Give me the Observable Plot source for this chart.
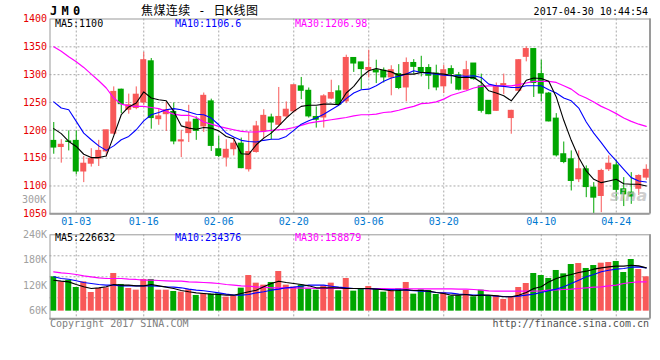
<!DOCTYPE html>
<html><head><meta charset="utf-8">
<script src="https://cdn.jsdelivr.net/npm/d3@7"></script>
<script src="https://cdn.jsdelivr.net/npm/@observablehq/plot@0.6"></script>
<style>
html,body{margin:0;padding:0;background:#fff;}
#wrap{position:relative;width:660px;height:360px;overflow:hidden;font-family:"DejaVu Sans Mono","Liberation Mono",monospace;}
.t{position:absolute;white-space:pre;font-size:10px;line-height:12px;}
#price,#vol{position:absolute;left:0;}
#price{top:0px}
#vol{top:230px}
</style></head><body>
<div id="wrap">
  <div id="price"></div>
  <div id="vol"></div>
  <div class="t" style="left:50px;top:4px;font-size:12px;line-height:14px;font-weight:bold;letter-spacing:4.3px">JM0</div>
  <div class="t" style="left:141px;top:4px;font-size:12px;line-height:14px;font-family:'DejaVu Sans Mono','Noto Sans CJK SC',monospace;letter-spacing:0.4px">焦煤连续 - 日K线图</div>
  <div class="t" style="right:12px;top:6px">2017-04-30 10:44:54</div>
  <div class="t" style="left:55px;top:18px;color:#000">MA5:1100</div>
  <div class="t" style="left:175px;top:18px;color:#0000ff">MA10:1106.6</div>
  <div class="t" style="left:295px;top:18px;color:#ff00ff">MA30:1206.98</div>
  <div class="t" style="right:614px;top:194px;color:#a0a0a0">300K</div>
  <div class="t" style="left:610px;top:186px;font-family:'DejaVu Sans',sans-serif;font-size:16px;line-height:20px;font-style:italic;font-weight:bold;color:rgba(190,190,190,0.75)">sina</div>
  <div class="t" style="left:55px;top:232px;color:#000">MA5:226632</div>
  <div class="t" style="left:175px;top:232px;color:#0000ff">MA10:234376</div>
  <div class="t" style="left:295px;top:232px;color:#ff00ff">MA30:158879</div>
  <div class="t" style="left:50px;top:318px;color:#808080">Copyright 2017 SINA.COM</div>
  <div class="t" style="right:11px;top:318px;color:#505050">http://finance.sina.com.cn</div>
</div>
<script>
const dates = ["12-28","12-29","12-30","01-03","01-04","01-05","01-06","01-09","01-10","01-11","01-12","01-13","01-16","01-17","01-18","01-19","01-20","01-23","01-24","01-25","01-26","02-03","02-06","02-07","02-08","02-09","02-10","02-13","02-14","02-15","02-16","02-17","02-20","02-21","02-22","02-23","02-24","02-27","02-28","03-01","03-02","03-03","03-06","03-07","03-08","03-09","03-10","03-13","03-14","03-15","03-16","03-17","03-20","03-21","03-22","03-23","03-24","03-27","03-28","03-29","03-30","03-31","04-05","04-06","04-07","04-10","04-11","04-12","04-13","04-14","04-17","04-18","04-19","04-20","04-21","04-24","04-25","04-26","04-27","04-28"];
const tickDates = ["01-03","01-16","02-06","02-20","03-06","03-20","04-10","04-24"];

const open  = [1181,1170,1180,1181,1126,1140,1149,1162,1194,1273, 1237,1240,1250,1324,1220,1229,1233,1180,1195,1219, 1207,1252,1166,1151,1166,1176,1130,1161,1198,1223, 1210,1225,1234,1279,1271,1224,1223,1257,1270,1252, 1330,1322,1308,1308,1307,1295,1301,1277,1321,1312, 1312,1302,1279,1310,1299,1273,1320,1279,1253,1235, 1281,1222,1271,1332,1346,1301,1266,1221,1157,1148, 1112,1130,1097,1082,1130,1137,1094,1088,1095,1115];
const high  = [1214,1183,1199,1199,1153,1167,1182,1200,1278,1274, 1265,1278,1340,1329,1237,1250,1249,1200,1245,1224, 1267,1256,1189,1183,1186,1186,1196,1216,1237,1229, 1277,1251,1282,1295,1276,1242,1264,1290,1280,1335, 1330,1322,1344,1326,1312,1316,1318,1330,1327,1333, 1318,1317,1317,1316,1304,1324,1320,1301,1253,1285, 1301,1236,1327,1350,1346,1326,1268,1230,1179,1163, 1163,1136,1106,1130,1154,1146,1115,1124,1120,1138];
const low   = [1157,1141,1163,1120,1106,1134,1135,1152,1192,1230, 1229,1237,1245,1202,1209,1198,1174,1151,1178,1182, 1196,1162,1151,1134,1154,1131,1125,1159,1185,1183, 1206,1222,1231,1255,1222,1204,1204,1255,1245,1248, 1304,1273,1294,1284,1285,1262,1273,1251,1301,1296, 1273,1271,1266,1283,1271,1272,1290,1231,1228,1234, 1264,1193,1268,1323,1259,1251,1215,1152,1140,1091, 1106,1079,1050,1052,1126,1073,1063,1067,1083,1110];
const close = [1169,1174,1179,1126,1140,1149,1163,1200,1269,1247, 1245,1264,1326,1222,1225,1236,1180,1182,1214,1199, 1262,1172,1154,1165,1176,1132,1161,1207,1226,1214, 1224,1237,1281,1271,1225,1219,1261,1267,1246,1330, 1320,1310,1312,1304,1295,1308,1276,1321,1314,1304, 1298,1277,1308,1301,1273,1308,1292,1235,1229,1279, 1283,1235,1326,1346,1285,1266,1216,1155,1143,1109, 1130,1098,1079,1127,1140,1093,1085,1081,1118,1129];

const ma5  = [1203,1194,1180,1171,1157,1151,1151,1154,1190,1228, 1242,1249,1269,1258,1255,1253,1234,1208,1204,1202, 1205,1204,1199,1189,1185,1158,1157,1174,1186,1195, 1208,1222,1234,1243,1245,1245,1247,1247,1246,1267, 1279,1296,1307,1311,1308,1305,1299,1301,1301,1304, 1304,1302,1301,1299,1295,1295,1295,1286,1271,1267, 1262,1253,1270,1290,1294,1293,1288,1260,1218,1182, 1151,1127,1112,1106,1109,1112,1104,1103,1103,1100];
const ma10 = [1251,1240,1237,1216,1195,1183,1172,1164,1172,1183, 1189,1201,1217,1228,1232,1237,1239,1237,1233,1229, 1228,1222,1210,1195,1188,1182,1180,1179,1182,1184, 1184,1189,1200,1211,1217,1222,1229,1237,1245,1257, 1267,1273,1274,1280,1288,1294,1297,1301,1307,1304, 1302,1301,1299,1298,1298,1297,1298,1295,1283,1280, 1279,1277,1277,1280,1280,1280,1273,1267,1258,1253, 1240,1215,1195,1178,1160,1145,1130,1115,1109,1107];
const ma30 = [1350,1342,1332,1323,1313,1301,1289,1276,1258,1247, 1244,1243,1243,1241,1239,1234,1229,1227,1227,1223, 1215,1211,1207,1204,1201,1198,1197,1197,1198,1200, 1201,1202,1205,1209,1213,1215,1217,1219,1221,1223, 1226,1228,1228,1229,1232,1233,1236,1240,1243,1248, 1249,1251,1256,1263,1267,1271,1276,1279,1280,1280, 1280,1280,1282,1285,1288,1288,1288,1286,1280,1274, 1264,1258,1251,1243,1237,1230,1222,1216,1211,1207];

const volume = [141000,129000,133000,115800,129000,104000,113400,115000,148800,122900, 113400,109500,134700,134700,109500,109500,106400,104800,110300,97000, 100900,100100,100900,93000,95400,114200,144000,126000,121300,127600, 153500,121300,116600,121300,111900,109500,119700,126000,108000,137000, 107200,111100,118200,111100,104800,111100,112700,127600,100100,110300, 108700,99300,103200,95400,96200,108700,93800,109500,95400,97000, 87500,93000,115800,125200,148800,144000,137000,155900,148000,170000, 172300,160600,167600,173100,174700,177100,151100,181800,158200,141000];
const volMa5 = [133000,130700,129000,122900,117400,113400,115000,117400,122900,121300, 121300,119700,119700,122900,119700,116600,113400,108700,105600,103200, 101700,100100,99300,97700,97700,101700,105600,109500,117400,125200, 130700,127600,125200,122900,119700,115000,115000,115000,115000,113400, 113400,113400,113400,111900,110300,108000,108700,110300,108700,108700, 107200,104000,101700,97700,97700,99300,96200,97700,97700,96200, 93800,93800,97700,104000,113400,117400,129000,137000,142500,146400, 151100,154300,159000,162100,164500,166100,166100,168400,166800,162100];
const volMa10 = [141000,137000,135400,131500,127600,125200,122900,121300,121300,119700, 119700,119700,119700,119700,118900,117400,116600,115000,111900,109500, 108000,105600,103200,100100,97700,97700,99300,103200,105600,109500, 111900,115000,116600,118900,121300,121300,121300,118900,116600,115000, 113400,112700,112700,111900,111100,111100,110300,109500,108000,107200, 106400,104000,103200,102500,100100,99300,97700,97700,97000,95400, 94600,93800,95400,97700,100100,104000,108000,111900,117400,125200, 133100,141000,146400,152700,156600,159000,160600,163700,164500,162100];
const volMa30 = [152700,150400,148800,146400,143300,141000,138600,137000,137000,137000, 135400,134700,133100,133100,132300,131500,130700,130700,129200,128400, 127600,126800,125200,122900,121300,119700,118900,117400,116600,115000, 115000,115000,115000,114200,114200,113400,113400,113400,113400,113400, 113400,113400,113400,113400,113400,112700,112700,112700,112700,112700, 112700,112700,112700,112700,111900,111900,111100,109500,108000,107200, 107200,107200,107200,107200,107200,108000,109500,110300,111100,111900, 113400,115000,116600,117400,119700,121300,125200,127600,129200,129200];

const priceTicks = [1050,1100,1150,1200,1250,1300,1350,1400];
const volTicks = [60000,120000,180000,240000];
const volBase = 60000;
const volDomain = [42000,240000];

const RED = "#f85858", GREEN = "#00a600";
const N = close.length;
const idx = d3.range(N);
const bars = idx.map(i => ({i, open: open[i], high: high[i], low: low[i], close: close[i], vol: volume[i],
  col: close[i] >= open[i] ? RED : GREEN}));
const tickIdx = tickDates.map(d => dates.indexOf(d));
const line = (arr) => idx.map(i => ({i, v: arr[i]}));
const grid = {stroke: "#a8a8a8", strokeOpacity: 1, strokeDasharray: "2,2", strokeWidth: 1};
const font = {fontFamily: "'DejaVu Sans Mono','Liberation Mono',monospace", fontSize: "10px", background: "transparent", overflow: "visible"};

const price = Plot.plot({
  width: 660, height: 230,
  marginTop: 18.5, marginBottom: 16.7, marginLeft: 49.5, marginRight: 10.5,
  style: font,
  x: {type: "linear", domain: [-0.5, N - 0.5], axis: null, label: null},
  y: {domain: [1050, 1400], axis: null, label: null},
  color: {type: "identity"},
  marks: [
    Plot.gridY(priceTicks.slice(1, -1), grid),
    Plot.gridX(tickIdx, grid),
    Plot.ruleX(bars, {x: "i", y1: "low", y2: "high", stroke: "col", strokeWidth: 1}),
    Plot.rect(bars, {x1: d => d.i - 0.4, x2: d => d.i + 0.4, y1: "open", y2: "close", fill: "col", insetTop: -0.5, insetBottom: -0.5}),
    Plot.line(line(ma30), {x: "i", y: "v", stroke: "#ff00ff", strokeWidth: 1.2}),
    Plot.line(line(ma10), {x: "i", y: "v", stroke: "#0000ff", strokeWidth: 1.1}),
    Plot.line(line(ma5), {x: "i", y: "v", stroke: "#000000", strokeWidth: 1.1}),
    Plot.axisY(priceTicks, {tickSize: 0, tickPadding: 3, color: "#e60000", label: null, tickFormat: d => String(d)}),
    Plot.axisX(tickIdx, {tickSize: 0, tickPadding: 4, color: "#0078d0", label: null, tickFormat: i => dates[i]}),
    Plot.frame({stroke: "#9a9a9a"}),
    Plot.ruleY([1050], {stroke: "#9a9a9a", strokeWidth: 2}),
    Plot.ruleX([N - 0.5], {stroke: "#9a9a9a", strokeWidth: 2})
  ]
});
document.getElementById("price").appendChild(price);

const volGrid = [1, 2, 3].map(k => volDomain[0] + (volDomain[1] - volDomain[0]) * k / 4);
const vol = Plot.plot({
  width: 660, height: 95,
  marginTop: 4.3, marginBottom: 6.7, marginLeft: 49.5, marginRight: 10.5,
  style: font,
  x: {type: "linear", domain: [-0.5, N - 0.5], axis: null, label: null},
  y: {domain: volDomain, axis: null, label: null},
  color: {type: "identity"},
  marks: [
    Plot.gridY(volGrid, grid),
    Plot.gridX(tickIdx, grid),
    Plot.rect(bars, {x1: d => d.i - 0.4, x2: d => d.i + 0.4, y1: volBase, y2: "vol", fill: "col"}),
    Plot.line(line(volMa30), {x: "i", y: "v", stroke: "#ff00ff", strokeWidth: 1.2}),
    Plot.line(line(volMa10), {x: "i", y: "v", stroke: "#0000ff", strokeWidth: 1.1}),
    Plot.line(line(volMa5), {x: "i", y: "v", stroke: "#000000", strokeWidth: 1.1}),
    Plot.axisY(volTicks, {tickSize: 0, tickPadding: 3, color: "#a0a0a0", label: null, tickFormat: d => (d / 1000) + "K"}),
    Plot.frame({stroke: "#9a9a9a"}),
    Plot.ruleY([volDomain[0]], {stroke: "#9a9a9a", strokeWidth: 2}),
    Plot.ruleX([N - 0.5], {stroke: "#9a9a9a", strokeWidth: 2})
  ]
});
document.getElementById("vol").appendChild(vol);
</script>
</body></html>
